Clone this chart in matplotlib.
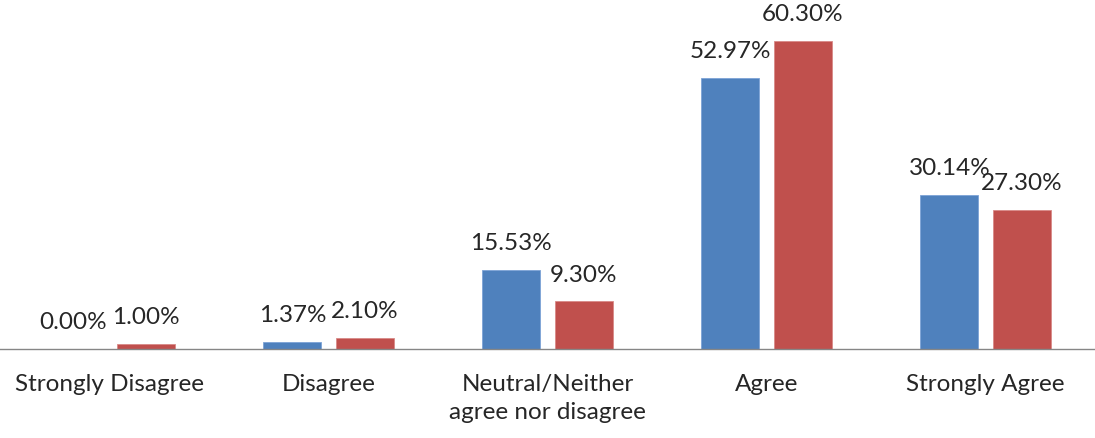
import matplotlib
matplotlib.use("Agg")
import matplotlib.pyplot as plt
import numpy as np

categories = ["Strongly Disagree", "Disagree", "Neutral/Neither\nagree nor disagree",
              "Agree", "Strongly Agree"]
series_a = [0.00, 1.37, 15.53, 52.97, 30.14]
series_b = [1.00, 2.10, 9.30, 60.30, 27.30]

blue = "#4F81BD"
red = "#C0504D"
text_color = "#262626"
font = ["Lato", "DejaVu Sans"]

fig = plt.figure(figsize=(10.95, 4.38), dpi=100)
ax = fig.add_axes([0.0, 0.2032, 1.0, 0.7968])

x = np.arange(len(categories))
width = 0.266
offset = 0.165

bars_a = ax.bar(x - offset, series_a, width, color=blue, edgecolor="#7DA3D6", linewidth=0.6)
bars_b = ax.bar(x + offset, series_b, width, color=red, edgecolor="#D98A88", linewidth=0.6)

for bars, vals in ((bars_a, series_a), (bars_b, series_b)):
    for b, v in zip(bars, vals):
        ax.annotate(f"{v:.2f}%", (b.get_x() + b.get_width() / 2, v),
                    xytext=(0, 19), textcoords="offset points",
                    ha="center", va="center", fontsize=17.5, color=text_color,
                    family=font)

ax.set_xlim(-0.5, 4.5)
ax.set_ylim(0, 68.3)
ax.set_yticks([])
ax.set_xticks(x)
ax.set_xticklabels(categories, fontsize=17.5, color=text_color, family=font,
                   linespacing=1.4, va="top")
ax.tick_params(axis="x", length=0, pad=18)
for s in ("top", "right", "left"):
    ax.spines[s].set_visible(False)
ax.spines["bottom"].set_color("#868686")
ax.spines["bottom"].set_linewidth(1.0)

fig.savefig("out.png", dpi=100)
